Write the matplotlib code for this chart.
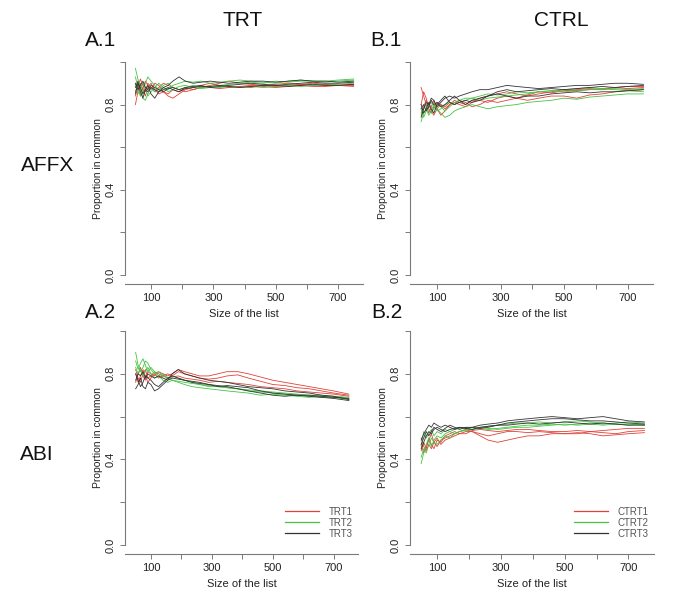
import matplotlib
matplotlib.use('Agg')
import matplotlib.pyplot as plt

plt.rcParams['font.family'] = ['Liberation Sans', 'DejaVu Sans']

sizes = [50, 58, 66, 74, 82, 90, 100, 112, 125, 140, 155, 170, 190, 210, 235,
         260, 290, 320, 350, 385, 420, 460, 500, 540, 580, 620, 660, 700, 750]

# A.1  TRT / AFFX
a1_red = [
    [0.80, 0.86, 0.90, 0.87, 0.84, 0.88, 0.90, 0.87, 0.85, 0.86, 0.84, 0.83, 0.85, 0.87, 0.88, 0.89, 0.90, 0.89, 0.88, 0.885, 0.89, 0.885, 0.88, 0.885, 0.89, 0.885, 0.885, 0.89, 0.885],
    [0.86, 0.90, 0.84, 0.88, 0.91, 0.89, 0.87, 0.90, 0.89, 0.86, 0.85, 0.87, 0.86, 0.88, 0.87, 0.88, 0.89, 0.90, 0.91, 0.90, 0.895, 0.89, 0.895, 0.90, 0.895, 0.89, 0.895, 0.89, 0.89],
    [0.84, 0.88, 0.92, 0.89, 0.86, 0.90, 0.88, 0.86, 0.88, 0.90, 0.89, 0.88, 0.87, 0.86, 0.87, 0.88, 0.88, 0.875, 0.88, 0.885, 0.88, 0.89, 0.885, 0.89, 0.895, 0.90, 0.895, 0.89, 0.895],
]
a1_green = [
    [0.97, 0.92, 0.88, 0.83, 0.82, 0.85, 0.88, 0.86, 0.87, 0.89, 0.90, 0.88, 0.87, 0.88, 0.89, 0.88, 0.885, 0.89, 0.895, 0.90, 0.905, 0.90, 0.91, 0.905, 0.91, 0.91, 0.905, 0.91, 0.915],
    [0.93, 0.88, 0.84, 0.86, 0.90, 0.93, 0.91, 0.89, 0.87, 0.88, 0.87, 0.89, 0.90, 0.91, 0.905, 0.91, 0.90, 0.905, 0.91, 0.915, 0.91, 0.905, 0.90, 0.91, 0.915, 0.91, 0.91, 0.915, 0.92],
    [0.90, 0.85, 0.87, 0.90, 0.88, 0.84, 0.86, 0.88, 0.90, 0.88, 0.86, 0.87, 0.885, 0.89, 0.88, 0.875, 0.88, 0.88, 0.885, 0.88, 0.885, 0.88, 0.885, 0.89, 0.885, 0.89, 0.89, 0.895, 0.90],
]
a1_black = [
    [0.88, 0.91, 0.86, 0.83, 0.87, 0.89, 0.85, 0.83, 0.86, 0.88, 0.89, 0.91, 0.93, 0.91, 0.90, 0.905, 0.91, 0.905, 0.90, 0.905, 0.91, 0.91, 0.905, 0.91, 0.915, 0.91, 0.91, 0.905, 0.91],
    [0.85, 0.90, 0.88, 0.85, 0.87, 0.86, 0.88, 0.87, 0.86, 0.87, 0.88, 0.87, 0.86, 0.875, 0.88, 0.885, 0.885, 0.89, 0.885, 0.88, 0.885, 0.89, 0.89, 0.885, 0.89, 0.895, 0.89, 0.89, 0.895],
    [0.90, 0.87, 0.89, 0.91, 0.88, 0.87, 0.89, 0.88, 0.87, 0.86, 0.875, 0.88, 0.87, 0.88, 0.885, 0.89, 0.88, 0.885, 0.89, 0.895, 0.90, 0.895, 0.89, 0.895, 0.90, 0.905, 0.90, 0.90, 0.905],
]

# B.1  CTRL / AFFX
b1_red = [
    [0.88, 0.84, 0.80, 0.76, 0.79, 0.82, 0.78, 0.75, 0.77, 0.80, 0.81, 0.80, 0.79, 0.81, 0.83, 0.84, 0.85, 0.86, 0.85, 0.84, 0.85, 0.86, 0.87, 0.865, 0.87, 0.875, 0.88, 0.875, 0.88],
    [0.80, 0.86, 0.83, 0.78, 0.76, 0.79, 0.81, 0.80, 0.78, 0.80, 0.82, 0.81, 0.80, 0.82, 0.82, 0.81, 0.83, 0.84, 0.83, 0.845, 0.86, 0.855, 0.865, 0.87, 0.875, 0.87, 0.88, 0.885, 0.885],
    [0.76, 0.79, 0.82, 0.80, 0.77, 0.75, 0.78, 0.80, 0.79, 0.81, 0.80, 0.82, 0.81, 0.79, 0.80, 0.82, 0.81, 0.82, 0.83, 0.82, 0.83, 0.84, 0.84, 0.83, 0.845, 0.85, 0.86, 0.865, 0.87],
]
b1_green = [
    [0.72, 0.76, 0.78, 0.75, 0.77, 0.80, 0.78, 0.76, 0.74, 0.75, 0.77, 0.78, 0.79, 0.80, 0.79, 0.78, 0.79, 0.795, 0.80, 0.81, 0.815, 0.82, 0.83, 0.825, 0.835, 0.84, 0.845, 0.85, 0.85],
    [0.75, 0.78, 0.80, 0.78, 0.76, 0.78, 0.80, 0.79, 0.77, 0.79, 0.81, 0.82, 0.83, 0.83, 0.84, 0.85, 0.845, 0.85, 0.86, 0.855, 0.86, 0.865, 0.86, 0.865, 0.87, 0.87, 0.875, 0.87, 0.875],
    [0.78, 0.74, 0.77, 0.80, 0.81, 0.79, 0.77, 0.78, 0.80, 0.81, 0.80, 0.81, 0.82, 0.83, 0.82, 0.83, 0.835, 0.84, 0.845, 0.85, 0.86, 0.865, 0.87, 0.875, 0.88, 0.875, 0.87, 0.865, 0.86],
]
b1_black = [
    [0.74, 0.78, 0.81, 0.80, 0.83, 0.82, 0.79, 0.81, 0.83, 0.84, 0.83, 0.84, 0.85, 0.86, 0.87, 0.87, 0.88, 0.89, 0.885, 0.88, 0.875, 0.88, 0.885, 0.89, 0.89, 0.895, 0.90, 0.90, 0.895],
    [0.80, 0.76, 0.78, 0.81, 0.78, 0.76, 0.80, 0.82, 0.84, 0.81, 0.80, 0.81, 0.82, 0.81, 0.82, 0.84, 0.85, 0.84, 0.83, 0.84, 0.84, 0.85, 0.855, 0.86, 0.855, 0.86, 0.86, 0.865, 0.87],
    [0.78, 0.80, 0.77, 0.79, 0.82, 0.80, 0.81, 0.79, 0.80, 0.82, 0.84, 0.82, 0.80, 0.82, 0.83, 0.84, 0.86, 0.87, 0.86, 0.865, 0.87, 0.875, 0.87, 0.875, 0.88, 0.885, 0.88, 0.885, 0.89],
]

# A.2  TRT / ABI
a2_red = [
    [0.76, 0.80, 0.83, 0.79, 0.77, 0.81, 0.80, 0.79, 0.81, 0.80, 0.79, 0.80, 0.82, 0.81, 0.80, 0.79, 0.79, 0.80, 0.81, 0.81, 0.80, 0.785, 0.77, 0.76, 0.75, 0.74, 0.73, 0.72, 0.705],
    [0.82, 0.78, 0.76, 0.80, 0.82, 0.78, 0.79, 0.81, 0.80, 0.79, 0.80, 0.79, 0.81, 0.80, 0.79, 0.78, 0.775, 0.78, 0.79, 0.795, 0.78, 0.765, 0.75, 0.745, 0.735, 0.73, 0.72, 0.71, 0.70],
    [0.80, 0.76, 0.79, 0.82, 0.79, 0.76, 0.78, 0.80, 0.78, 0.79, 0.78, 0.785, 0.79, 0.78, 0.775, 0.77, 0.76, 0.765, 0.76, 0.755, 0.75, 0.74, 0.735, 0.73, 0.72, 0.715, 0.71, 0.705, 0.695],
]
a2_green = [
    [0.90, 0.84, 0.81, 0.83, 0.86, 0.85, 0.82, 0.80, 0.81, 0.79, 0.78, 0.79, 0.78, 0.77, 0.76, 0.75, 0.74, 0.74, 0.735, 0.73, 0.725, 0.72, 0.715, 0.71, 0.705, 0.70, 0.70, 0.695, 0.69],
    [0.86, 0.82, 0.85, 0.87, 0.84, 0.81, 0.83, 0.81, 0.79, 0.80, 0.78, 0.77, 0.765, 0.76, 0.755, 0.75, 0.745, 0.74, 0.735, 0.73, 0.72, 0.715, 0.71, 0.705, 0.70, 0.695, 0.69, 0.69, 0.685],
    [0.83, 0.80, 0.82, 0.79, 0.81, 0.83, 0.80, 0.78, 0.79, 0.77, 0.76, 0.77, 0.76, 0.75, 0.74, 0.735, 0.73, 0.725, 0.72, 0.715, 0.71, 0.70, 0.705, 0.70, 0.695, 0.69, 0.695, 0.69, 0.68],
]
a2_black = [
    [0.73, 0.75, 0.78, 0.74, 0.73, 0.76, 0.75, 0.72, 0.73, 0.75, 0.77, 0.80, 0.82, 0.80, 0.79, 0.78, 0.77, 0.765, 0.76, 0.75, 0.74, 0.735, 0.73, 0.72, 0.715, 0.71, 0.70, 0.695, 0.68],
    [0.80, 0.77, 0.74, 0.76, 0.79, 0.78, 0.77, 0.75, 0.74, 0.76, 0.78, 0.79, 0.78, 0.77, 0.765, 0.76, 0.75, 0.745, 0.74, 0.73, 0.72, 0.71, 0.70, 0.695, 0.70, 0.695, 0.69, 0.685, 0.675],
    [0.77, 0.80, 0.79, 0.81, 0.78, 0.80, 0.79, 0.78, 0.79, 0.78, 0.77, 0.78, 0.775, 0.77, 0.76, 0.755, 0.75, 0.74, 0.745, 0.74, 0.735, 0.72, 0.71, 0.705, 0.70, 0.70, 0.695, 0.69, 0.685],
]

# B.2  CTRL / ABI
b2_red = [
    [0.44, 0.48, 0.45, 0.50, 0.47, 0.45, 0.49, 0.48, 0.51, 0.52, 0.53, 0.52, 0.53, 0.53, 0.51, 0.49, 0.48, 0.49, 0.50, 0.51, 0.51, 0.52, 0.52, 0.525, 0.52, 0.51, 0.515, 0.52, 0.525],
    [0.47, 0.43, 0.46, 0.49, 0.52, 0.48, 0.46, 0.49, 0.50, 0.51, 0.52, 0.53, 0.54, 0.53, 0.52, 0.51, 0.52, 0.53, 0.53, 0.525, 0.53, 0.525, 0.52, 0.52, 0.53, 0.535, 0.54, 0.545, 0.545],
    [0.50, 0.46, 0.44, 0.47, 0.45, 0.48, 0.50, 0.47, 0.49, 0.50, 0.51, 0.52, 0.52, 0.535, 0.54, 0.535, 0.53, 0.535, 0.54, 0.54, 0.535, 0.53, 0.53, 0.535, 0.53, 0.525, 0.52, 0.53, 0.535],
]
b2_green = [
    [0.38, 0.43, 0.47, 0.50, 0.46, 0.49, 0.51, 0.50, 0.52, 0.53, 0.52, 0.53, 0.54, 0.54, 0.55, 0.555, 0.56, 0.565, 0.57, 0.57, 0.575, 0.57, 0.575, 0.58, 0.575, 0.57, 0.565, 0.565, 0.56],
    [0.41, 0.45, 0.43, 0.47, 0.50, 0.48, 0.47, 0.49, 0.51, 0.50, 0.52, 0.53, 0.535, 0.54, 0.545, 0.54, 0.545, 0.55, 0.555, 0.56, 0.56, 0.565, 0.56, 0.565, 0.57, 0.565, 0.57, 0.575, 0.57],
    [0.46, 0.53, 0.50, 0.52, 0.54, 0.51, 0.53, 0.52, 0.54, 0.53, 0.54, 0.545, 0.55, 0.54, 0.55, 0.545, 0.54, 0.545, 0.55, 0.55, 0.555, 0.56, 0.565, 0.56, 0.565, 0.56, 0.565, 0.56, 0.565],
]
b2_black = [
    [0.49, 0.52, 0.54, 0.56, 0.55, 0.57, 0.56, 0.55, 0.56, 0.55, 0.54, 0.55, 0.545, 0.55, 0.56, 0.565, 0.57, 0.58, 0.585, 0.59, 0.595, 0.60, 0.595, 0.59, 0.595, 0.60, 0.59, 0.58, 0.575],
    [0.47, 0.50, 0.53, 0.51, 0.53, 0.55, 0.54, 0.53, 0.545, 0.56, 0.55, 0.54, 0.55, 0.55, 0.545, 0.55, 0.56, 0.57, 0.575, 0.58, 0.585, 0.59, 0.59, 0.585, 0.58, 0.58, 0.575, 0.57, 0.565],
    [0.45, 0.48, 0.51, 0.53, 0.52, 0.54, 0.55, 0.54, 0.53, 0.54, 0.545, 0.55, 0.545, 0.54, 0.55, 0.555, 0.56, 0.56, 0.565, 0.57, 0.565, 0.57, 0.575, 0.57, 0.565, 0.57, 0.565, 0.56, 0.56],
]

trt_labels = ['TRT1', 'TRT2', 'TRT3']
ctrl_labels = ['CTRT1', 'CTRT2', 'CTRT3']

RED = '#e04238'
GREEN = '#45c445'
BLACK = '#333333'
AXIS_GREY = '#7a7a7a'

W, H = 685, 591
fig = plt.figure(figsize=(W / 100, H / 100), dpi=100)
fig.patch.set_facecolor('white')


def add_panel(left, right, top, bottom, red, green, black, labels=None):
    # position given in pixels of the final image
    ax = fig.add_axes([left / W, 1 - bottom / H, (right - left) / W, (bottom - top) / H])
    for ys in red:
        ax.plot(sizes, ys, color=RED, lw=0.6)
    for ys in green:
        ax.plot(sizes, ys, color=GREEN, lw=0.6)
    for ys in black:
        ax.plot(sizes, ys, color=BLACK, lw=0.6)
    ax.set_xlim(15, 780)
    ax.set_ylim(-0.042, 1.042)
    for s in ['top', 'right']:
        ax.spines[s].set_visible(False)
    for s in ['left', 'bottom']:
        ax.spines[s].set_color(AXIS_GREY)
        ax.spines[s].set_linewidth(0.8)
    ax.spines['left'].set_bounds(0, 1)
    ax.set_xticks([100, 200, 300, 400, 500, 600, 700])
    ax.set_xticklabels(['100', '', '300', '', '500', '', '700'])
    ax.set_yticks([0.0, 0.2, 0.4, 0.6, 0.8, 1.0])
    ax.set_yticklabels(['0.0', '', '0.4', '', '0.8', ''], rotation=90, va='center')
    ax.tick_params(length=3.5, width=0.7, color=AXIS_GREY, labelsize=8,
                   labelcolor='#222222', pad=3)
    ax.set_xlabel('Size of the list', fontsize=8, color='#222222', labelpad=4)
    ax.set_ylabel('Proportion in common', fontsize=7.5, color='#222222', labelpad=2)
    if labels:
        hs = [plt.Line2D([], [], color=c, lw=0.9) for c in (RED, GREEN, BLACK)]
        ax.legend(hs, labels, loc='lower right', bbox_to_anchor=(0.995, 0.05),
                  borderaxespad=0, frameon=False, fontsize=7, labelcolor='#555555',
                  handlelength=3.5, handletextpad=1.0, labelspacing=0.1)
    return ax


add_panel(124.5, 363, 53, 284, a1_red, a1_green, a1_black)
add_panel(410, 653, 53, 284, b1_red, b1_green, b1_black)
add_panel(125, 358, 322, 554, a2_red, a2_green, a2_black, trt_labels)
add_panel(410, 654, 322, 554, b2_red, b2_green, b2_black, ctrl_labels)


def fig_text(x, y, s):
    fig.text(x / W, 1 - y / H, s, fontsize=15, ha='center', va='center', color='#111111')


fig_text(243, 20, 'TRT')
fig_text(561, 21, 'CTRL')
fig_text(101, 40, 'A.1')
fig_text(386, 41, 'B.1')
fig_text(101, 312, 'A.2')
fig_text(387, 312, 'B.2')
fig_text(48, 165, 'AFFX')
fig_text(37, 455, 'ABI')

fig.savefig('out.png', dpi=100)
